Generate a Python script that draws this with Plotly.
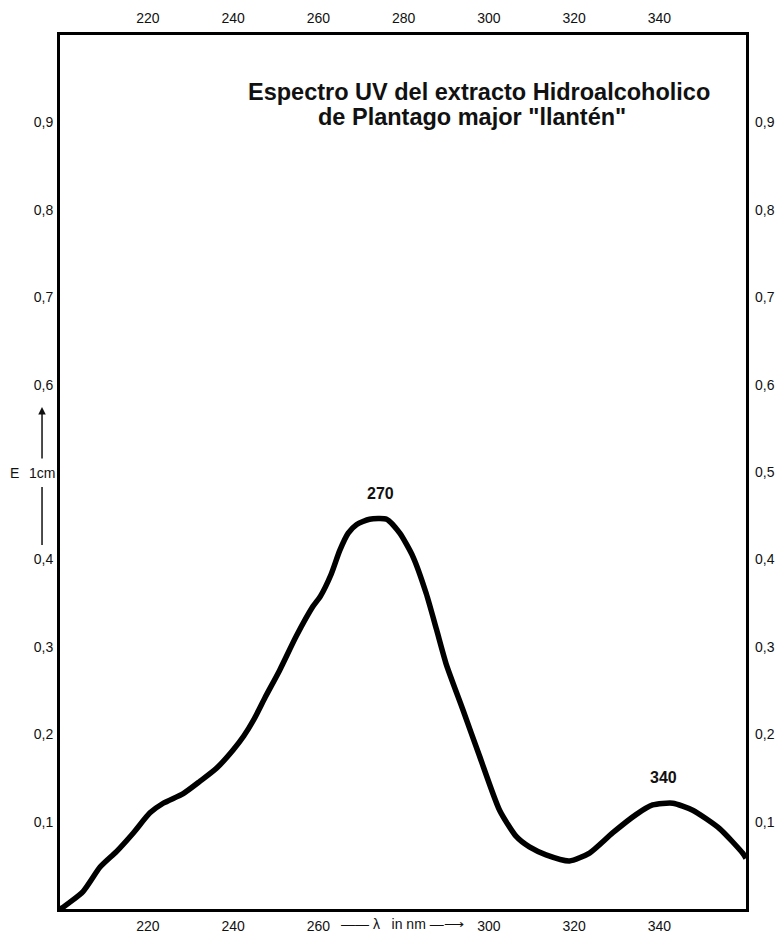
import plotly.graph_objects as go

# Wavelength (nm) and absorbance (E 1cm)
wavelength = [199.4, 199.8, 204.8, 208.8, 212.7, 216.6, 220.5, 223.6, 228.3, 232.2, 236.1,
              240.0, 242.5, 245.0, 247.5, 250.9, 254.8, 258.7, 260.5, 263.0, 265.0,
              267.0, 269.0, 272.0, 276.0, 279.1, 282.2, 285.3, 287.7, 290.0, 293.9,
              297.8, 302.5, 306.4, 309.5, 313.4, 318.9, 323.6, 329.0, 334.5, 338.4,
              343.1, 347.8, 354.1, 359.5, 360.3]
absorbance = [0.000, 0.001, 0.020, 0.048, 0.066, 0.087, 0.110, 0.121, 0.132, 0.146, 0.161,
              0.182, 0.198, 0.218, 0.242, 0.273, 0.312, 0.346, 0.358, 0.383, 0.410,
              0.430, 0.440, 0.446, 0.446, 0.430, 0.403, 0.361, 0.320, 0.280, 0.228,
              0.175, 0.113, 0.083, 0.071, 0.062, 0.055, 0.064, 0.087, 0.108, 0.119,
              0.121, 0.113, 0.092, 0.064, 0.058]

x_ticks_top = [220, 240, 260, 280, 300, 320, 340]
x_ticks_bottom = [220, 240, 260, 300, 320, 340]
y_ticks_left = [0.1, 0.2, 0.3, 0.4, 0.6, 0.7, 0.8, 0.9]
y_ticks_right = [0.1, 0.2, 0.3, 0.4, 0.5, 0.6, 0.7, 0.8, 0.9]

peak_labels = ["270", "340"]
peak_label_x = [274.6, 340.9]
peak_label_y = [0.475, 0.150]

title_lines = ["Espectro UV del extracto Hidroalcoholico", 'de Plantago major "llantén"']

def fmt(v):
    return ("%.1f" % v).replace(".", ",")

X_RANGE = [199.4, 360.3]
Y_RANGE = [0.0, 1.0]
TICK_FONT = dict(family="Liberation Sans Narrow, Arial Narrow, Liberation Sans, Arial", size=14, color="#111")
NB = "\u00a0"

fig = go.Figure()
fig.add_trace(go.Scatter(
    x=wavelength, y=absorbance, mode="lines",
    line=dict(color="black", width=5.5, shape="spline", smoothing=0.6),
    hoverinfo="skip", showlegend=False,
))
# invisible trace to activate the secondary (top/right) axes
fig.add_trace(go.Scatter(
    x=[wavelength[0]], y=[absorbance[0]], xaxis="x2", yaxis="y2", mode="markers",
    marker=dict(opacity=0), hoverinfo="skip", showlegend=False,
))

annotations = []
for t, xv, yv in zip(peak_labels, peak_label_x, peak_label_y):
    annotations.append(dict(x=xv, y=yv, xref="x", yref="y", text="<b>%s</b>" % t, showarrow=False,
                            font=dict(family="Liberation Sans, Arial", size=16, color="#111"),
                            xanchor="center", yanchor="middle"))

annotations.append(dict(x=0.611, y=0.9350, xref="paper", yref="paper", text="<b>%s</b>" % title_lines[0],
                        showarrow=False, font=dict(family="Liberation Sans, Arial", size=23.5, color="#111"),
                        xanchor="center", yanchor="middle"))
annotations.append(dict(x=0.601, y=0.9062, xref="paper", yref="paper", text="<b>%s</b>" % title_lines[1],
                        showarrow=False, font=dict(family="Liberation Sans, Arial", size=23.5, color="#111"),
                        xanchor="center", yanchor="middle"))

# bottom axis caption between 260 and 300
annotations.append(dict(x=279.7, y=-0.0175, xref="x", yref="paper",
                        text="——" + NB + "λ" + NB * 3 + "in" + NB + "nm" + NB + "—⟶",
                        showarrow=False, font=TICK_FONT, xanchor="center", yanchor="middle"))

# left "E 1cm" label with arrow
annotations.append(dict(x=-0.0656, y=0.4989, xref="paper", yref="paper", text="E", showarrow=False,
                        font=TICK_FONT, xanchor="center", yanchor="middle"))
annotations.append(dict(x=-0.0262, y=0.4989, xref="paper", yref="paper", text="1cm", showarrow=False,
                        font=TICK_FONT, xanchor="center", yanchor="middle"))
annotations.append(dict(x=-0.0262, y=0.5744, xref="paper", yref="paper", text="", showarrow=True,
                        ax=0, ay=53, axref="pixel", ayref="pixel", arrowhead=2, arrowsize=1,
                        arrowwidth=1.5, arrowcolor="#111"))

shapes = [dict(type="line", xref="paper", yref="paper", x0=-0.0262, x1=-0.0262, y0=0.4828, y1=0.4165,
               line=dict(color="#111", width=1.5))]

fig.update_layout(
    width=777, height=938,
    margin=dict(l=60, r=31, t=35, b=29, autoexpand=False),
    paper_bgcolor="white", plot_bgcolor="white",
    showlegend=False,
    annotations=annotations,
    shapes=shapes,
    xaxis=dict(range=X_RANGE, tickvals=x_ticks_bottom, ticktext=[str(v) for v in x_ticks_bottom],
               showgrid=False, zeroline=False, showline=True, linecolor="black", linewidth=3,
               mirror=True, ticks="", tickfont=TICK_FONT, ticklabelstandoff=2, automargin=False),
    yaxis=dict(range=Y_RANGE, tickvals=y_ticks_left, ticktext=[fmt(v) for v in y_ticks_left],
               showgrid=False, zeroline=False, showline=True, linecolor="black", linewidth=3,
               mirror=True, ticks="", tickfont=TICK_FONT, ticklabelstandoff=1, automargin=False),
    xaxis2=dict(range=X_RANGE, overlaying="x", side="top", tickvals=x_ticks_top,
                ticktext=[str(v) for v in x_ticks_top], showgrid=False, zeroline=False,
                showline=False, ticks="", tickfont=TICK_FONT, ticklabelstandoff=8, automargin=False),
    yaxis2=dict(range=Y_RANGE, overlaying="y", side="right", tickvals=y_ticks_right,
                ticktext=[fmt(v) for v in y_ticks_right], showgrid=False, zeroline=False,
                showline=False, ticks="", tickfont=TICK_FONT, ticklabelstandoff=8, automargin=False),
)

# remove the default page margin and scrollbars so the figure fills the 777x938 window exactly
fig.write_html(
    "out.html",
    config={"displayModeBar": False, "staticPlot": True},
    post_script="document.body.style.margin='0';document.body.style.padding='0';"
                "document.body.style.overflow='hidden';"
                "document.documentElement.style.overflow='hidden';",
)
